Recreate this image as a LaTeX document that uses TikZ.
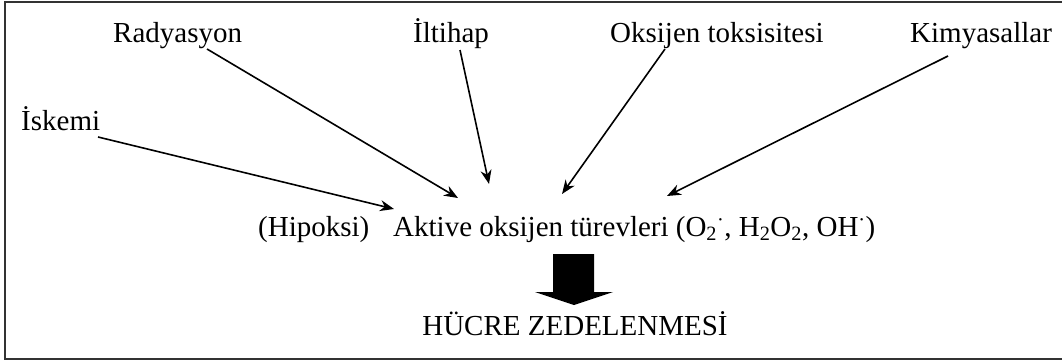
\documentclass[tikz,border=0pt]{standalone}
\usepackage{fontspec}
\setmainfont{Liberation Serif}
\usetikzlibrary{arrows.meta}
\tikzset{
  lbl/.style={anchor=base west, inner sep=0pt, font=\fontsize{29}{32}\selectfont},
  arr/.style={line width=1.6pt, -{Stealth[length=14pt,width=11pt]}},
}
\begin{document}
\begin{tikzpicture}[x=1pt,y=-1pt]
\useasboundingbox (0,0) rectangle (1062,361);
\begin{scope}
\clip (0,0) rectangle (1062,361);
\draw[line width=2.2pt, black!80] (5,2) rectangle (1075,359);
\end{scope}
\node[lbl] (rad) at (113,42) {Radyasyon};
\node[lbl] (ilt) at (413,42) {İltihap};
\node[lbl] (oks) at (610,42) {Oksijen toksisitesi};
\node[lbl] (kim) at (910,42) {Kimyasallar};
\node[lbl] (isk) at (21,130) {İskemi};
\node[lbl] (hip) at (258,236) {(Hipoksi)};
\node[lbl] (akt) at (393,236) {Aktive oksijen türevleri (O\textsubscript{2}\textsuperscript{·}, H\textsubscript{2}O\textsubscript{2}, OH\textsuperscript{·})};
\node[lbl, anchor=base] (hucre) at (575,335) {HÜCRE ZEDELENMESİ};
\coordinate (radS) at (207,49);
\coordinate (radE) at (458,198);
\coordinate (iltS) at (460,50);
\coordinate (iltE) at (489,184);
\coordinate (oksS) at (665,49);
\coordinate (oksE) at (562,194);
\coordinate (kimS) at (948,56);
\coordinate (kimE) at (667,196);
\coordinate (iskS) at (98,137);
\coordinate (iskE) at (394,209);
\draw[arr] (radS) -- (radE);
\draw[arr] (iltS) -- (iltE);
\draw[arr] (oksS) -- (oksE);
\draw[arr] (kimS) -- (kimE);
\draw[arr] (iskS) -- (iskE);
\fill[black] (553,254) -- (594,254) -- (594,292) -- (613,292) -- (574,305) -- (535,292) -- (553,292) -- cycle;
\end{tikzpicture}
\end{document}
